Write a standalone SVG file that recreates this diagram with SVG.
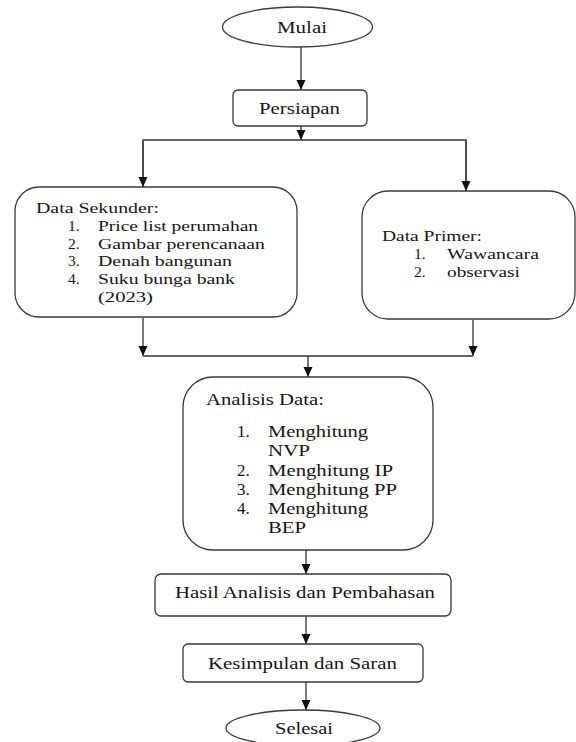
<svg xmlns="http://www.w3.org/2000/svg" width="576" height="742" viewBox="0 0 576 742">
<defs>
<style>
.box{fill:#fff;stroke:#3a3a3a;stroke-width:1.3}
.ln{fill:none;stroke:#333;stroke-width:1.3}
text{font-family:'Liberation Serif','Times New Roman',serif;fill:#151515}
.t{font-size:17px}
.s{font-size:15.5px}
</style>
<marker id="ah" markerUnits="userSpaceOnUse" markerWidth="10" markerHeight="10" viewBox="0 0 10 10" refX="10" refY="5" orient="auto">
<path d="M0,0.5 L10,5 L0,9.5 Z" fill="#111"/>
</marker>
</defs>
<rect width="576" height="742" fill="#fff"/>

<g id="connectors">
<line class="ln" x1="301" y1="47" x2="301" y2="90" marker-end="url(#ah)"/>
<line class="ln" x1="301" y1="126" x2="301" y2="140" marker-end="url(#ah)"/>
<polyline class="ln" points="143,187 143,140 466,140 466,191"/>
<line class="ln" x1="143" y1="141" x2="143" y2="187" marker-end="url(#ah)"/>
<line class="ln" x1="466" y1="141" x2="466" y2="191" marker-end="url(#ah)"/>
<line class="ln" x1="143" y1="318" x2="143" y2="356" marker-end="url(#ah)"/>
<line class="ln" x1="473" y1="320" x2="473" y2="356" marker-end="url(#ah)"/>
<line class="ln" x1="143" y1="356" x2="473" y2="356"/>
<line class="ln" x1="308" y1="356" x2="308" y2="377" marker-end="url(#ah)"/>
<line class="ln" x1="306" y1="550" x2="306" y2="574" marker-end="url(#ah)"/>
<line class="ln" x1="306" y1="616" x2="306" y2="644" marker-end="url(#ah)"/>
<line class="ln" x1="306" y1="682" x2="306" y2="710" marker-end="url(#ah)"/>
</g>

<g id="mulai">
<ellipse class="box" cx="297.5" cy="27" rx="75" ry="20"/>
<text class="t" x="277" y="33" textLength="50" lengthAdjust="spacingAndGlyphs">Mulai</text>
</g>

<g id="persiapan">
<rect class="box" x="233" y="90" width="134" height="36" rx="5"/>
<text class="t" x="259" y="114" textLength="81" lengthAdjust="spacingAndGlyphs">Persiapan</text>
</g>

<g id="data-sekunder">
<rect class="box" x="15" y="187" width="282" height="130" rx="24"/>
<text class="s" x="36" y="213" textLength="123" lengthAdjust="spacingAndGlyphs">Data Sekunder:</text>
<text class="s" x="68" y="231">1.</text>
<text class="s" x="98" y="231" textLength="160" lengthAdjust="spacingAndGlyphs">Price list perumahan</text>
<text class="s" x="68" y="249">2.</text>
<text class="s" x="98" y="249" textLength="167" lengthAdjust="spacingAndGlyphs">Gambar perencanaan</text>
<text class="s" x="68" y="266">3.</text>
<text class="s" x="98" y="266" textLength="134" lengthAdjust="spacingAndGlyphs">Denah bangunan</text>
<text class="s" x="68" y="284">4.</text>
<text class="s" x="98" y="284" textLength="137" lengthAdjust="spacingAndGlyphs">Suku bunga bank</text>
<text class="s" x="98" y="302" textLength="55" lengthAdjust="spacingAndGlyphs">(2023)</text>
</g>

<g id="data-primer">
<rect class="box" x="362" y="191" width="213" height="128" rx="26"/>
<text class="s" x="382" y="241" textLength="100" lengthAdjust="spacingAndGlyphs">Data Primer:</text>
<text class="s" x="414" y="259">1.</text>
<text class="s" x="447" y="259" textLength="92" lengthAdjust="spacingAndGlyphs">Wawancara</text>
<text class="s" x="414" y="277">2.</text>
<text class="s" x="447" y="277" textLength="73" lengthAdjust="spacingAndGlyphs">observasi</text>
</g>

<g id="analisis-data">
<rect class="box" x="183" y="377" width="250" height="173" rx="30"/>
<text class="t" x="206" y="405" textLength="118" lengthAdjust="spacingAndGlyphs">Analisis Data:</text>
<text class="t" x="237" y="437">1.</text>
<text class="t" x="268" y="437" textLength="100" lengthAdjust="spacingAndGlyphs">Menghitung</text>
<text class="t" x="268" y="456" textLength="42" lengthAdjust="spacingAndGlyphs">NVP</text>
<text class="t" x="237" y="476">2.</text>
<text class="t" x="268" y="476" textLength="125" lengthAdjust="spacingAndGlyphs">Menghitung IP</text>
<text class="t" x="237" y="495">3.</text>
<text class="t" x="268" y="495" textLength="129" lengthAdjust="spacingAndGlyphs">Menghitung PP</text>
<text class="t" x="237" y="514">4.</text>
<text class="t" x="268" y="514" textLength="100" lengthAdjust="spacingAndGlyphs">Menghitung</text>
<text class="t" x="268" y="533" textLength="38" lengthAdjust="spacingAndGlyphs">BEP</text>
</g>

<g id="hasil">
<rect class="box" x="155" y="574" width="296" height="42" rx="6"/>
<text class="t" x="175" y="598" textLength="260" lengthAdjust="spacingAndGlyphs">Hasil Analisis dan Pembahasan</text>
</g>

<g id="kesimpulan">
<rect class="box" x="183" y="644" width="240" height="38" rx="5"/>
<text class="t" x="208" y="669" textLength="189" lengthAdjust="spacingAndGlyphs">Kesimpulan dan Saran</text>
</g>

<g id="selesai">
<ellipse class="box" cx="303" cy="728" rx="77" ry="18"/>
<text class="t" x="275" y="734" textLength="58" lengthAdjust="spacingAndGlyphs">Selesai</text>
</g>
</svg>
